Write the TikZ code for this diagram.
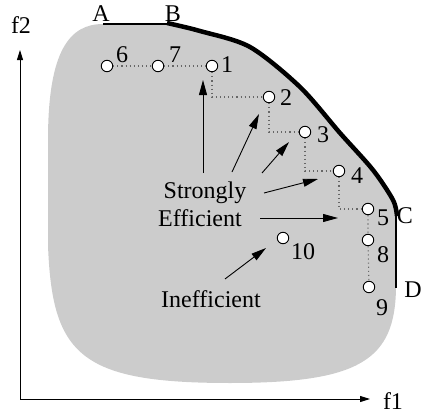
\documentclass[tikz,border=0pt]{standalone}
\usepackage{fontspec}
\setmainfont{Liberation Serif}
\usetikzlibrary{arrows.meta}
\begin{document}
\begin{tikzpicture}[x=1pt,y=-1pt,
  font=\fontsize{24}{28}\selectfont,
  pt/.style={circle,draw=black,fill=white,line width=0.9pt,minimum size=11.5pt,inner sep=0pt},
  lbl/.style={anchor=base,inner sep=0pt},
  dots/.style={draw=black!60,line width=1.1pt,dash pattern=on 1.1pt off 3pt},
  bigarrow/.style={line width=0.9pt,-{Triangle[length=15pt,width=8pt]}},
  axis/.style={line width=0.9pt,-{Triangle[length=10pt,width=6pt]}}]
\useasboundingbox (0,0) rectangle (421,415);
% feasible region
\fill[black!20] (103,24) -- (167,23)
  plot[smooth] coordinates {(167,23) (200,31) (250,47) (300,87) (340,133) (373,170) (393,200) (397,214)}
  -- (396,288) .. controls (395,360) and (360,383) .. (230,383)
  .. controls (80,383) and (52,355) .. (48,245) -- (48,140)
  .. controls (48,50) and (70,24) .. (103,24) -- cycle;
\draw[line width=1.2pt] (103,24) -- (167,24);
\draw[line width=4.5pt] plot[smooth] coordinates {(167,23) (200,31) (250,47) (300,87) (340,133) (373,170) (393,200) (397,216)};
\draw[line width=1.3pt] (396,214) -- (396,288);
% axes
\coordinate (o) at (20,399);
\coordinate (ytip) at (20,50);
\coordinate (xtip) at (370,399);
\draw[axis] (o) -- (ytip);
\draw[axis] (o) -- (xtip);
\node[lbl] (f2) at (21,33) {f2};
\node[lbl] (f1) at (393,409) {f1};
\node[lbl] (A) at (101,21) {A};
\node[lbl] (B) at (173,21) {B};
\node[lbl] (C) at (405,223) {C};
\node[lbl] (D) at (413,297) {D};
% points
\node[pt] (p1) at (212,66) {};
\node[pt] (p2) at (269,97) {};
\node[pt] (p3) at (305,132) {};
\node[pt] (p4) at (339,171) {};
\node[pt] (p5) at (368,209) {};
\node[pt] (p6) at (107,66) {};
\node[pt] (p7) at (158,66) {};
\node[pt] (p8) at (368,240) {};
\node[pt] (p9) at (369,287) {};
\node[pt] (p10) at (283,238) {};
% dotted links
\draw[dots] (p6) -- (p7) -- (p1);
\draw[dots] (p1) |- (p2);
\draw[dots] (p2) |- (p3);
\draw[dots] (p3) |- (p4);
\draw[dots] (p4) |- (p5);
\draw[dots] (p5) -- (p8) -- (p9);
% point labels
\node[lbl] (l1) at (227,72) {1};
\node[lbl] (l2) at (286,105) {2};
\node[lbl] (l3) at (323,142) {3};
\node[lbl] (l4) at (357,183) {4};
\node[lbl] (l5) at (383,225) {5};
\node[lbl] (l6) at (122,62) {6};
\node[lbl] (l7) at (175,62) {7};
\node[lbl] (l8) at (383,262) {8};
\node[lbl] (l9) at (382,315) {9};
\node[lbl] (l10) at (303,259) {10};
% texts
\node[lbl] (strong) at (205,198) {Strongly};
\node[lbl] (eff) at (200,226) {Efficient};
\node[lbl] (ineff) at (211,307) {Inefficient};
% arrows
\coordinate (s1) at (203,173); \coordinate (e1) at (203,80);
\coordinate (s2) at (232,172); \coordinate (e2) at (259,114);
\coordinate (s3) at (262,173); \coordinate (e3) at (289,142);
\coordinate (s4) at (264,193); \coordinate (e4) at (318,179);
\coordinate (s5) at (260,218); \coordinate (e5) at (338,218);
\coordinate (s6) at (225,279); \coordinate (e6) at (266,248);
\draw[bigarrow] (s1) -- (e1);
\draw[bigarrow] (s2) -- (e2);
\draw[bigarrow] (s3) -- (e3);
\draw[bigarrow] (s4) -- (e4);
\draw[bigarrow] (s5) -- (e5);
\draw[bigarrow] (s6) -- (e6);
\end{tikzpicture}
\end{document}
